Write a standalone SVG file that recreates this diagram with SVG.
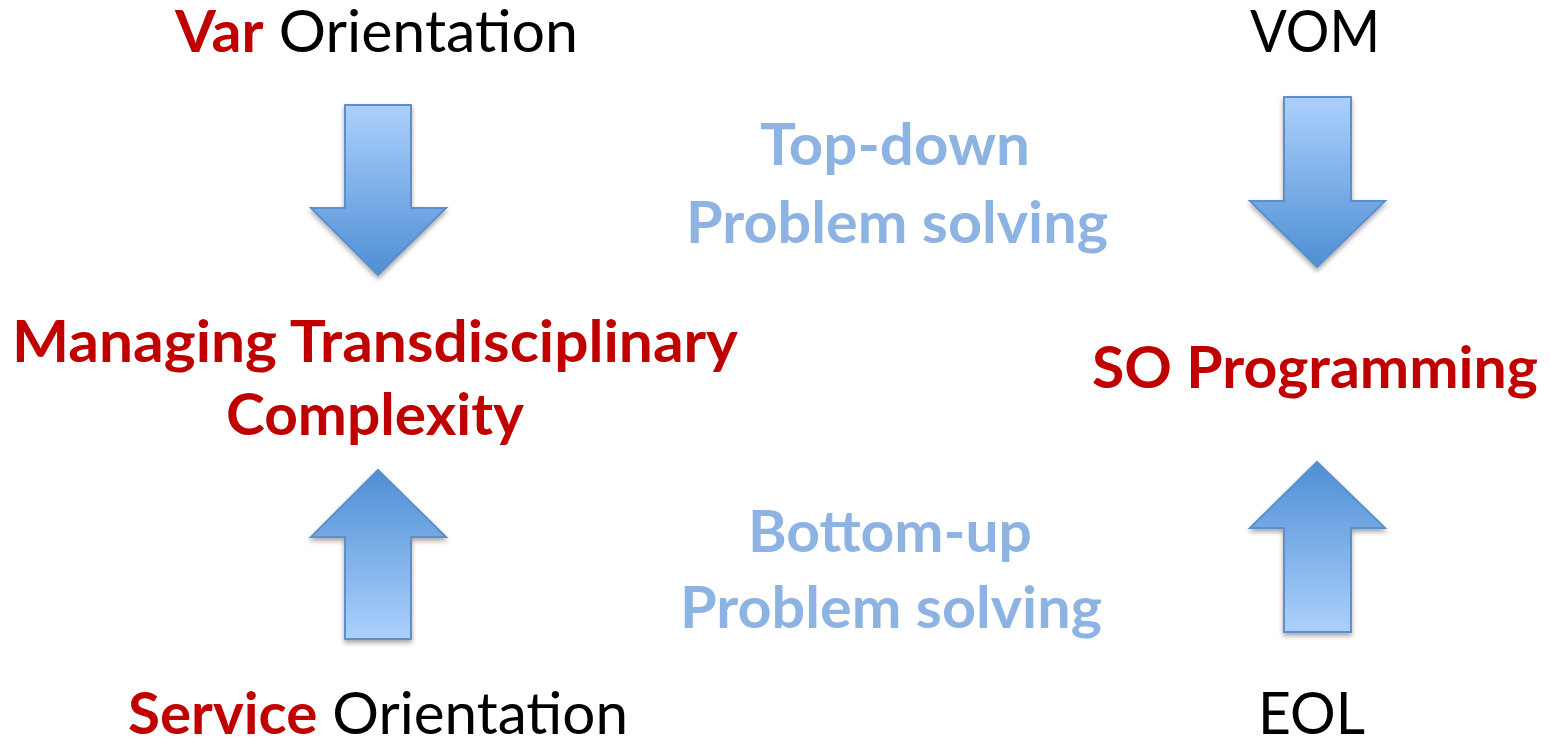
<svg xmlns="http://www.w3.org/2000/svg" width="1550" height="738" viewBox="0 0 1550 738">
  <defs>
    <linearGradient id="gradDown" x1="0" y1="0" x2="0" y2="1">
      <stop offset="0" stop-color="#acd0fc"/>
      <stop offset="1" stop-color="#4e8fd4"/>
    </linearGradient>
    <linearGradient id="gradUp" x1="0" y1="1" x2="0" y2="0">
      <stop offset="0" stop-color="#acd0fc"/>
      <stop offset="1" stop-color="#4e8fd4"/>
    </linearGradient>
    <filter id="shadow" x="-20%" y="-20%" width="140%" height="140%">
      <feGaussianBlur in="SourceAlpha" stdDeviation="2.5"/>
      <feOffset dx="0" dy="3" result="blur"/>
      <feComponentTransfer><feFuncA type="linear" slope="0.35"/></feComponentTransfer>
      <feMerge><feMergeNode/><feMergeNode in="SourceGraphic"/></feMerge>
    </filter>
  </defs>
  <style>
    text { font-family: Lato, "Open Sans", "Liberation Sans", sans-serif; font-size: 58px; }
    .red { fill: #c00000; font-weight: bold; }
    .black { fill: #000000; font-weight: normal; }
    .soft { fill: #8db3e2; font-weight: bold; }
    .arrow { stroke: #5b8fcb; stroke-width: 2; stroke-linejoin: miter; filter: url(#shadow); }
  </style>
  <rect width="1550" height="738" fill="#ffffff"/>

  <!-- block arrows -->
  <g id="connectors">
    <path class="arrow" fill="url(#gradDown)" d="M345,105 H411 V208 H446 L378,275 L311,208 H345 Z"/>
    <path class="arrow" fill="url(#gradUp)" d="M378,470 L446,537 H411 V639 H345 V537 H311 Z"/>
    <path class="arrow" fill="url(#gradDown)" d="M1284,97 H1351 V201 H1385 L1317,267 L1250,201 H1284 Z"/>
    <path class="arrow" fill="url(#gradUp)" d="M1317,462 L1385,528 H1351 V632 H1284 V528 H1250 Z"/>
  </g>

  <g id="var-orientation">
    <text x="175" y="52" textLength="403" lengthAdjust="spacingAndGlyphs"><tspan class="red">Var</tspan><tspan class="black"> Orientation</tspan></text>
  </g>
  <g id="vom">
    <text class="black" x="1250" y="52" textLength="130" lengthAdjust="spacingAndGlyphs">VOM</text>
  </g>
  <g id="managing-complexity">
    <text class="red" x="12" y="362" textLength="726" lengthAdjust="spacingAndGlyphs">Managing Transdisciplinary</text>
    <text class="red" x="226" y="435" textLength="298" lengthAdjust="spacingAndGlyphs">Complexity</text>
  </g>
  <g id="so-programming">
    <text class="red" x="1092" y="388" textLength="446" lengthAdjust="spacingAndGlyphs">SO Programming</text>
  </g>
  <g id="top-down">
    <text class="soft" x="760" y="165" textLength="270" lengthAdjust="spacingAndGlyphs">Top-down</text>
    <text class="soft" x="686" y="243" textLength="422" lengthAdjust="spacingAndGlyphs">Problem solving</text>
  </g>
  <g id="bottom-up">
    <text class="soft" x="748" y="552" textLength="284" lengthAdjust="spacingAndGlyphs">Bottom-up</text>
    <text class="soft" x="680" y="628" textLength="422" lengthAdjust="spacingAndGlyphs">Problem solving</text>
  </g>
  <g id="service-orientation">
    <text x="128" y="734" textLength="500" lengthAdjust="spacingAndGlyphs"><tspan class="red">Service</tspan><tspan class="black"> Orientation</tspan></text>
  </g>
  <g id="eol">
    <text class="black" x="1258" y="734" textLength="107" lengthAdjust="spacingAndGlyphs">EOL</text>
  </g>
</svg>
